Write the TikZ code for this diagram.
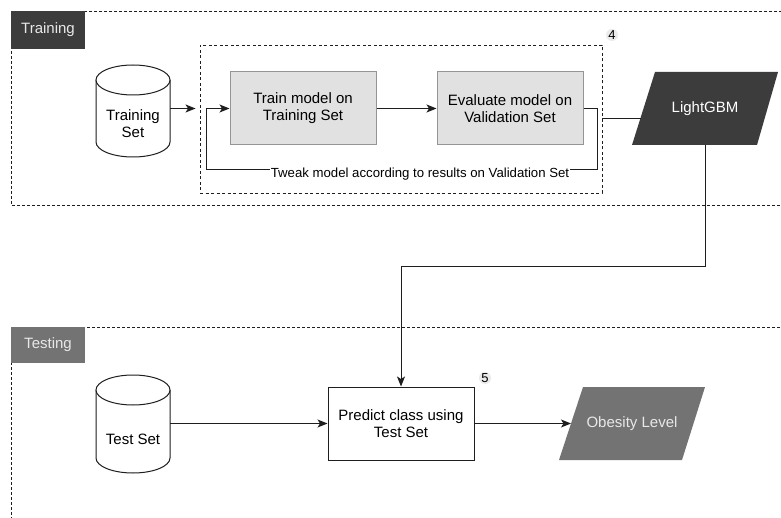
\documentclass[tikz,border=0pt]{standalone}
\usepackage{fontspec}
\setmainfont{Liberation Sans}
\usetikzlibrary{arrows.meta,calc}
\definecolor{darkfill}{HTML}{3C3C3C}
\definecolor{midfill}{HTML}{737373}
\definecolor{lightbox}{HTML}{E1E1E1}
\definecolor{lightborder}{HTML}{959595}
\definecolor{lighttext}{HTML}{E8E8E8}
\definecolor{linecol}{HTML}{1E1E1E}
\newcommand\mycyl[4]{% cx, top, bottom, halfwidth
  \fill[white] (#1-#4,#2+15) rectangle (#1+#4,#3-15);
  \draw[fill=white, line width=1pt, draw=linecol] (#1-#4,#2+15) -- (#1-#4,#3-15)
     .. controls (#1-#4,#3-6.7) and (#1-0.5523*#4,#3) .. (#1,#3)
     .. controls (#1+0.5523*#4,#3) and (#1+#4,#3-6.7) .. (#1+#4,#3-15)
     -- (#1+#4,#2+15);
  \draw[fill=white, line width=1pt, draw=linecol] (#1,#2+15) ellipse [x radius=#4, y radius=15];
}
\tikzset{
  every node/.style={font=\fontsize{15}{17}\selectfont, align=center, inner sep=0pt},
  lane/.style={draw=linecol, dash pattern=on 3pt off 2pt, line width=0.9pt},
  group/.style={draw=linecol, dash pattern=on 3pt off 2.5pt, line width=0.9pt},
  lanelbl/.style={minimum width=74pt, minimum height=38pt, text=lighttext},
  procbox/.style={draw=lightborder, fill=lightbox, line width=1pt, minimum width=146pt, minimum height=73pt},
  plainbox/.style={draw=linecol, fill=white, line width=1pt, minimum width=146pt, minimum height=73pt},
  ghost/.style={minimum width=146pt, minimum height=73pt},
  conn/.style={draw=linecol, line width=1pt},
  arr/.style={conn, -{Stealth[length=10pt,width=8pt,inset=2.5pt]}},
  badge/.style={circle, fill=black!8, minimum size=12pt, font=\fontsize{13}{14}\selectfont},
  edgelbl/.style={fill=white, font=\fontsize{13.2}{15}\selectfont, inner xsep=0.5pt, inner ysep=1pt}
}
\begin{document}
\begin{tikzpicture}[x=1pt,y=-1pt]
\useasboundingbox (0,0) rectangle (781,518);
\fill[white] (0,0) rectangle (781,518);
\begin{scope}
\clip (0,0) rectangle (781,518);
% lanes
\draw[lane] (11,11) rectangle (800,205);
\draw[lane] (11,327) rectangle (800,540);
\end{scope}
\node[lanelbl, fill=darkfill] (trainlbl) at (48,30) {Training};
\node[lanelbl, fill=midfill, minimum height=36pt] (testlbl) at (48,345) {Testing};

% group 4
\node[group, minimum width=402pt, minimum height=148pt] (grp) at (401,119) {};
\node[badge] (b4) at (612,35) {4};

% training set cylinder
\mycyl{133}{65}{157}{37}
\node[minimum width=74pt, minimum height=62pt] (trainset) at (133,124) {Training\\Set};

\node[procbox] (trainbox) at (303,108.5) {Train model on\\Training Set};
\node[procbox] (evalbox) at (510,108.5) {Evaluate model on\\Validation Set};

% LightGBM parallelogram
\fill[darkfill] (655,72) -- (778,72) -- (757,145) -- (632,145) -- cycle;
\node[ghost, text=white] (lgbm) at (705,108.5) {LightGBM};
\coordinate (lgbmL) at (640.5,119);

% connectors training
\draw[arr, shorten >=4pt] (trainset.east |- trainbox.west) -- (grp.west |- trainbox.west);
\draw[arr] (trainbox.east) -- (evalbox.west);
\draw[arr] (evalbox.east) -- ++(14,0) -- ++(0,61.5) -| ($(trainbox.west)+(-23,0)$) -- (trainbox.west);
\node[edgelbl] (tweak) at (420,174) {Tweak model according to results on Validation Set};
\draw[conn] (grp.east) -- (lgbmL);

% testing
\mycyl{133}{375}{473}{37}
\node[minimum width=74pt, minimum height=68pt] (testset) at (133,439) {Test Set};

\node[plainbox] (predict) at (401,423.5) {Predict class using\\Test Set};
\node[badge] (b5) at (485,378) {5};

\fill[midfill] (583,387) -- (705,387) -- (682,460) -- (559,460) -- cycle;
\node[ghost, text=lighttext] (obes) at (632,423.5) {Obesity Level};
\coordinate (obesL) at (571,423.5);

\draw[arr] (lgbm.south) -- ++(0,121) -| (predict.north);
\draw[arr] (testset.east |- predict.west) -- (predict.west);
\draw[arr] (predict.east) -- (obesL);
\end{tikzpicture}
\end{document}
